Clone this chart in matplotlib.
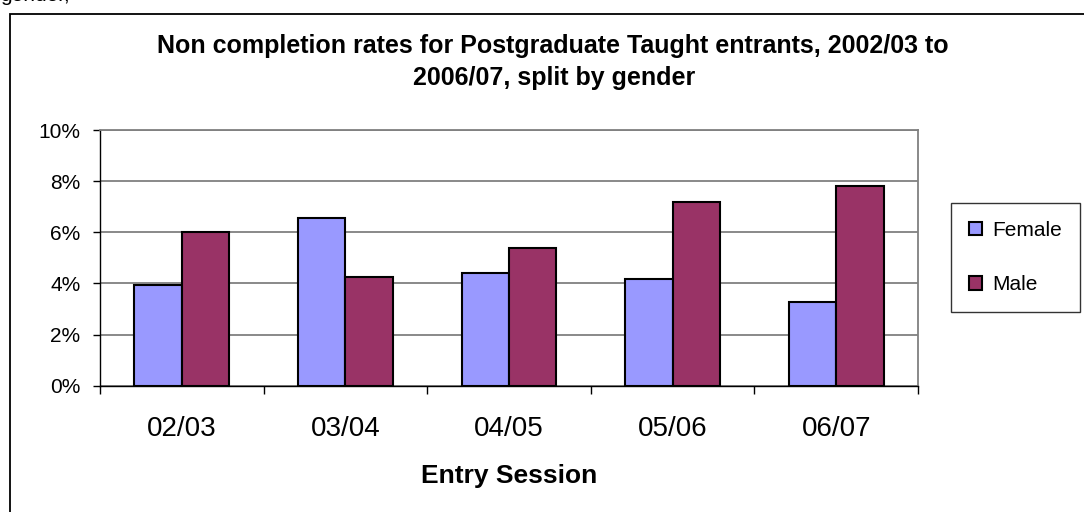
import matplotlib
matplotlib.use("Agg")
import matplotlib.pyplot as plt
import numpy as np
from matplotlib.patches import Rectangle
from matplotlib.ticker import FuncFormatter

plt.rcParams['font.family'] = ['Liberation Sans', 'DejaVu Sans']

# data
sessions = ['02/03', '03/04', '04/05', '05/06', '06/07']
female = [3.94, 6.57, 4.41, 4.19, 3.27]
male = [6.00, 4.25, 5.39, 7.18, 7.81]
y_ticks = [0, 2, 4, 6, 8, 10]

female_col = '#9999FF'
male_col = '#993366'
grid_col = '#808080'

W, H = 1084, 512
fig = plt.figure(figsize=(W / 100, H / 100), dpi=100)

# outer chart frame (runs off the right and bottom of the image)
fig.patches.append(Rectangle((10 / W, -0.1), 1.2, 1 - 14 / H + 0.1,
                             transform=fig.transFigure, fill=False,
                             edgecolor='black', linewidth=1.3))

# clipped text from the page above the chart (only descenders show)
fig.text(0.0, 1 - 1 / H, 'gender,', fontsize=15, va='baseline', ha='left')

ax = fig.add_axes([100 / W, 1 - 385.7 / H, 818 / W, 255.7 / H])

x = np.arange(len(sessions))
bw = 0.29
ax.bar(x - bw / 2, female, bw, color=female_col, edgecolor='black',
       linewidth=1.5, label='Female', zorder=3)
ax.bar(x + bw / 2, male, bw, color=male_col, edgecolor='black',
       linewidth=1.5, label='Male', zorder=3)

ax.set_xlim(-0.5, len(sessions) - 0.5)
ax.set_ylim(0, 10)
ax.set_yticks(y_ticks)
ax.yaxis.set_major_formatter(FuncFormatter(lambda v, p: '%d%%' % v))
ax.yaxis.grid(True, color=grid_col, linewidth=1.3, zorder=0)

ax.set_xticks(x)
ax.set_xticklabels(sessions, fontsize=20)
ax.set_xticks(np.arange(len(sessions) + 1) - 0.5, minor=True)
ax.tick_params(axis='x', which='major', length=0, pad=22)
ax.tick_params(axis='x', which='minor', length=6, width=1, direction='out')
ax.tick_params(axis='y', length=5, width=1, direction='out', pad=9,
               labelsize=15)

for s in ['top', 'right']:
    ax.spines[s].set_color(grid_col)
    ax.spines[s].set_linewidth(1.3)
for s in ['left', 'bottom']:
    ax.spines[s].set_color('black')
    ax.spines[s].set_linewidth(1)

ax.set_xlabel('Entry Session', fontsize=19, fontweight='bold', labelpad=16)

fig.text(553 / W, 1 - 46 / H,
         'Non completion rates for Postgraduate Taught entrants, 2002/03 to',
         fontsize=18, fontweight='bold', ha='center', va='center')
fig.text(554 / W, 1 - 78 / H, '2006/07, split by gender',
         fontsize=18, fontweight='bold', ha='center', va='center')

leg = ax.legend(loc='upper left', bbox_to_anchor=(951 / W, 1 - 203 / H),
                bbox_transform=fig.transFigure, borderaxespad=0,
                fontsize=15, frameon=True, fancybox=False,
                edgecolor='black', handlelength=0.62, handleheight=0.62,
                handletextpad=0.5, labelspacing=1.7, borderpad=0.85)
leg.get_frame().set_linewidth(1)

fig.savefig('out.png', dpi=100)
